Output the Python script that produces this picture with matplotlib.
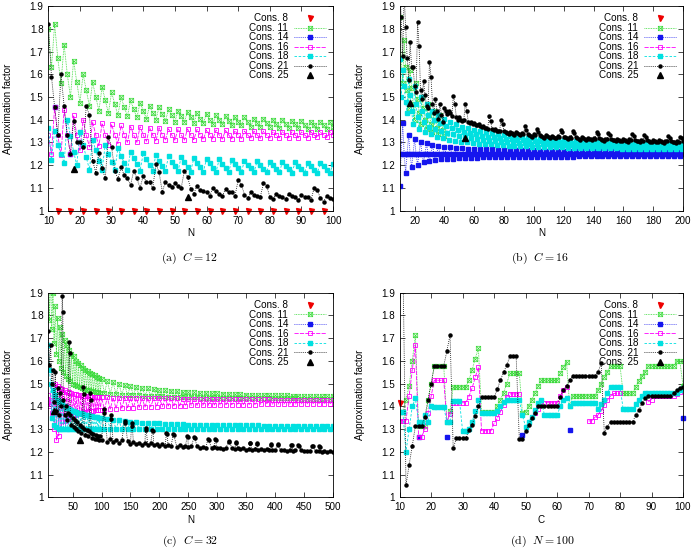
import numpy as np
import pandas as pd
import matplotlib
matplotlib.use("Agg")
import matplotlib.pyplot as plt
from matplotlib.lines import Line2D
from matplotlib.path import Path
from matplotlib.ticker import FormatStrFormatter

plt.rcParams['font.family'] = ['Liberation Sans', 'DejaVu Sans']
plt.rcParams['font.size'] = 7.1

# ------------------------------------------------------------ (a) C = 12
n_a = np.arange(10, 101)
a_c8_n = [13, 17, 21, 25, 29, 33, 37, 41, 45, 49, 53, 57, 61, 65, 69, 73, 77, 81, 85, 89, 93, 97]
a_c8 = [1.0, 1.0, 1.0, 1.0, 1.0, 1.0, 1.0, 1.0, 1.0, 1.0, 1.0,
        1.0, 1.0, 1.0, 1.0, 1.0, 1.0, 1.0, 1.0, 1.0, 1.0, 1.0]
a_c11 = [1.80, 1.63, 1.82, 1.67, 1.56, 1.73, 1.60, 1.50, 1.66, 1.565,
         1.475, 1.60, 1.53, 1.46, 1.565, 1.50, 1.44, 1.545, 1.485, 1.43,
         1.52, 1.47, 1.42, 1.50, 1.455, 1.415, 1.485, 1.445, 1.41, 1.475,
         1.44, 1.405, 1.46, 1.43, 1.40, 1.455, 1.425, 1.395, 1.445, 1.42,
         1.39, 1.44, 1.415, 1.39, 1.435, 1.41, 1.385, 1.43, 1.405, 1.385,
         1.425, 1.40, 1.38, 1.42, 1.40, 1.38, 1.415, 1.395, 1.375, 1.41,
         1.39, 1.375, 1.41, 1.39, 1.37, 1.405, 1.385, 1.37, 1.405, 1.385,
         1.37, 1.40, 1.38, 1.365, 1.40, 1.38, 1.365, 1.395, 1.38, 1.365,
         1.395, 1.375, 1.36, 1.39, 1.375, 1.36, 1.39, 1.375, 1.36, 1.39,
         1.37]
a_c14_n = [12, 17]
a_c14 = [1.455, 1.25]
a_c16 = [1.333, 1.25,
         1.455, 1.333, 1.243, 1.443, 1.333, 1.25, 1.42, 1.333, 1.265,
         1.40, 1.333, 1.28, 1.39, 1.333, 1.285, 1.385, 1.333, 1.29,
         1.38, 1.333, 1.295, 1.375, 1.333, 1.30, 1.37, 1.333, 1.30,
         1.37, 1.333, 1.305, 1.365, 1.333, 1.305, 1.365, 1.333, 1.31,
         1.36, 1.333, 1.31, 1.36, 1.333, 1.31, 1.36, 1.333, 1.312,
         1.357, 1.333, 1.313, 1.355, 1.333, 1.315, 1.355, 1.333, 1.315,
         1.353, 1.333, 1.316, 1.352, 1.333, 1.317, 1.35, 1.333, 1.318,
         1.35, 1.333, 1.318, 1.35, 1.333, 1.319, 1.348, 1.333, 1.32,
         1.348, 1.333, 1.32, 1.347, 1.333, 1.32, 1.346, 1.333, 1.321,
         1.346, 1.333, 1.322, 1.345, 1.333, 1.322, 1.345, 1.333]
a_c18 = [1.365, 1.222, 1.35, 1.29, 1.25, 1.21,
         1.40, 1.33, 1.26, 1.20, 1.345, 1.29, 1.235, 1.18,
         1.31, 1.265, 1.22, 1.18, 1.29, 1.25, 1.215, 1.178,
         1.275, 1.24, 1.21, 1.177, 1.26, 1.23, 1.205, 1.176,
         1.252, 1.225, 1.20, 1.175, 1.246, 1.22, 1.197, 1.174,
         1.24, 1.216, 1.195, 1.173, 1.236, 1.213, 1.193, 1.172,
         1.232, 1.21, 1.19, 1.171, 1.228, 1.208, 1.189, 1.17,
         1.225, 1.206, 1.188, 1.17, 1.222, 1.204, 1.187, 1.169,
         1.22, 1.202, 1.186, 1.169, 1.218, 1.201, 1.185, 1.168,
         1.216, 1.20, 1.184, 1.168, 1.214, 1.198, 1.183, 1.167,
         1.212, 1.197, 1.182, 1.167, 1.21, 1.196, 1.181, 1.166,
         1.208, 1.195, 1.18, 1.166, 1.205]
a_c21 = [1.82, 1.59, 1.455, 1.333, 1.60, 1.46, 1.333, 1.25, 1.395, 1.30,
         1.30, 1.28, 1.46, 1.42, 1.22, 1.167, 1.255, 1.186, 1.142, 1.325,
         1.28, 1.176, 1.14, 1.19, 1.157, 1.142, 1.113, 1.176, 1.142, 1.10,
         1.153, 1.125, 1.125, 1.098, 1.205, 1.17, 1.084, 1.125, 1.111, 1.105,
         1.12, 1.11, 1.10, 1.175, 1.15, 1.095, 1.075, 1.11, 1.09, 1.085,
         1.08, 1.065, 1.10, 1.085, 1.075, 1.065, 1.095, 1.08, 1.08, 1.065,
         1.135, 1.115, 1.07, 1.055, 1.08, 1.07, 1.065, 1.06, 1.12, 1.11,
         1.06, 1.05, 1.075, 1.065, 1.06, 1.05, 1.075, 1.065, 1.06, 1.045,
         1.07, 1.06, 1.06, 1.045, 1.10, 1.09, 1.055, 1.04, 1.065, 1.055,
         1.05]
a_c25_n = [18, 54]
a_c25 = [1.185, 1.06]

# ------------------------------------------------------------ (b) C = 16
n_b = np.arange(10, 201)
b_c11_n = np.arange(10, 41)
b_c11 = [1.85, 1.67, 1.56, 1.75, 1.63, 1.53, 1.45, 1.62, 1.54, 1.47,
         1.40, 1.56, 1.49, 1.43, 1.38, 1.50, 1.45, 1.40, 1.36, 1.47,
         1.42, 1.38, 1.345, 1.44, 1.40, 1.365, 1.335, 1.42, 1.385, 1.355,
         1.33]
b_c14 = [1.11, 1.25,
         1.385, 1.25, 1.167, 1.25, 1.333, 1.25, 1.19, 1.25,
         1.315, 1.25, 1.203, 1.25, 1.304, 1.25, 1.212, 1.25,
         1.296, 1.25, 1.218, 1.25, 1.29, 1.25, 1.222, 1.25,
         1.286, 1.25, 1.225, 1.25, 1.282, 1.25, 1.227, 1.25,
         1.279, 1.25, 1.229, 1.25, 1.277, 1.25, 1.23, 1.25,
         1.275, 1.25, 1.231, 1.25, 1.273, 1.25, 1.232, 1.25,
         1.272, 1.25, 1.233, 1.25, 1.271, 1.25, 1.234, 1.25,
         1.27, 1.25, 1.234, 1.25, 1.269, 1.25, 1.235, 1.25,
         1.268, 1.25, 1.235, 1.25, 1.267, 1.25, 1.236, 1.25,
         1.267, 1.25, 1.236, 1.25, 1.266, 1.25, 1.237, 1.25,
         1.266, 1.25, 1.237, 1.25, 1.265, 1.25, 1.237, 1.25,
         1.265, 1.25, 1.238, 1.25, 1.264, 1.25, 1.238, 1.25,
         1.264, 1.25, 1.238, 1.25, 1.264, 1.25, 1.238, 1.25,
         1.264, 1.25, 1.238, 1.25, 1.264, 1.25, 1.238, 1.25,
         1.263, 1.25, 1.238, 1.25, 1.263, 1.25, 1.239, 1.25,
         1.263, 1.25, 1.239, 1.25, 1.263, 1.25, 1.239, 1.25,
         1.263, 1.25, 1.239, 1.25, 1.263, 1.25, 1.239, 1.25,
         1.263, 1.25, 1.239, 1.25, 1.262, 1.25, 1.239, 1.25,
         1.262, 1.25, 1.239, 1.25, 1.262, 1.25, 1.239, 1.25,
         1.262, 1.25, 1.239, 1.25, 1.262, 1.25, 1.24, 1.25,
         1.262, 1.25, 1.24, 1.25, 1.262, 1.25, 1.24, 1.25,
         1.262, 1.25, 1.24, 1.25, 1.262, 1.25, 1.24, 1.25,
         1.262, 1.25, 1.24, 1.25, 1.262, 1.25, 1.24, 1.25,
         1.262, 1.25, 1.24, 1.25,
         1.262]
b_c18 = [1.667, 1.50,
         1.62, 1.55, 1.48, 1.43, 1.58, 1.51, 1.44, 1.38,
         1.55, 1.47, 1.41, 1.36, 1.50, 1.44, 1.39, 1.345,
         1.47, 1.42, 1.37, 1.335, 1.44, 1.40, 1.36, 1.325,
         1.42, 1.385, 1.35, 1.318, 1.405, 1.373, 1.342, 1.312,
         1.39, 1.362, 1.335, 1.307, 1.38, 1.354, 1.328, 1.303,
         1.37, 1.347, 1.323, 1.30, 1.362, 1.341, 1.319, 1.297,
         1.355, 1.335, 1.315, 1.295, 1.349, 1.33, 1.311, 1.293,
         1.344, 1.326, 1.308, 1.291, 1.34, 1.323, 1.306, 1.289,
         1.336, 1.32, 1.304, 1.288, 1.332, 1.317, 1.302, 1.286,
         1.329, 1.314, 1.30, 1.285, 1.326, 1.312, 1.298, 1.284,
         1.323, 1.31, 1.296, 1.283, 1.321, 1.308, 1.295, 1.282,
         1.319, 1.306, 1.294, 1.281, 1.317, 1.305, 1.293, 1.28,
         1.315, 1.303, 1.291, 1.279, 1.313, 1.302, 1.29, 1.279,
         1.312, 1.301, 1.289, 1.278, 1.31, 1.299, 1.288, 1.277,
         1.309, 1.298, 1.287, 1.277, 1.308, 1.297, 1.286, 1.276,
         1.306, 1.296, 1.286, 1.276, 1.305, 1.295, 1.285, 1.275,
         1.304, 1.294, 1.284, 1.275, 1.303, 1.293, 1.284, 1.274,
         1.302, 1.293, 1.283, 1.274, 1.301, 1.292, 1.283, 1.274,
         1.30, 1.291, 1.282, 1.273, 1.30, 1.291, 1.282, 1.273,
         1.299, 1.29, 1.281, 1.273, 1.298, 1.29, 1.281, 1.272,
         1.298, 1.289, 1.28, 1.272, 1.297, 1.289, 1.28, 1.272,
         1.296, 1.288, 1.28, 1.271, 1.296, 1.288, 1.279, 1.271,
         1.295, 1.287, 1.279, 1.271, 1.295, 1.287, 1.279, 1.27,
         1.294, 1.286, 1.278, 1.27,
         1.294]
b_c21 = [2.0, 1.85, 1.68, 1.95, 1.81, 1.67, 1.575, 1.74, 1.63, 1.63,
         1.55, 1.52, 1.83, 1.725, 1.53, 1.49, 1.57, 1.51, 1.46, 1.45,
         1.655, 1.59, 1.47, 1.43, 1.49, 1.44, 1.405, 1.47, 1.42, 1.39,
         1.45, 1.44, 1.425, 1.44, 1.43, 1.415, 1.505, 1.47, 1.41, 1.40,
         1.41, 1.40, 1.395, 1.40, 1.47, 1.44, 1.39, 1.385, 1.39, 1.38,
         1.385, 1.378, 1.375, 1.38, 1.372, 1.368, 1.372, 1.365, 1.362, 1.36,
         1.415, 1.395, 1.36, 1.355, 1.358, 1.352, 1.35, 1.352, 1.40, 1.38,
         1.352, 1.346, 1.34, 1.336, 1.348, 1.342, 1.337, 1.333,
         1.345, 1.34, 1.335, 1.331, 1.342, 1.337, 1.372, 1.355,
         1.339, 1.334, 1.33, 1.326, 1.337, 1.332, 1.36, 1.347,
         1.334, 1.329, 1.325, 1.321, 1.332, 1.327, 1.323, 1.319,
         1.33, 1.325, 1.321, 1.318, 1.328, 1.323, 1.355, 1.345,
         1.326, 1.322, 1.318, 1.315, 1.325, 1.32, 1.352, 1.342,
         1.323, 1.319, 1.315, 1.312, 1.322, 1.318, 1.314, 1.311,
         1.32, 1.316, 1.313, 1.31, 1.319, 1.315, 1.345, 1.336,
         1.318, 1.314, 1.311, 1.308, 1.317, 1.313, 1.34, 1.332,
         1.316, 1.312, 1.309, 1.306, 1.315, 1.311, 1.308, 1.305,
         1.314, 1.31, 1.307, 1.304, 1.313, 1.309, 1.335, 1.327,
         1.312, 1.308, 1.305, 1.302, 1.311, 1.308, 1.332, 1.325,
         1.31, 1.307, 1.304, 1.301, 1.31, 1.306, 1.303, 1.30,
         1.309, 1.305, 1.302, 1.299, 1.308, 1.305, 1.328, 1.32,
         1.307, 1.304, 1.301, 1.298, 1.307, 1.303, 1.325, 1.318,
         1.306]
b_c25_n = [17, 54]
b_c25 = [1.475, 1.32]

# ------------------------------------------------------------ (c) C = 32
n_c = np.r_[np.arange(8, 101, 2), np.arange(105, 501, 5)]
c_c11 = [2.05, 1.78, 2.0, 1.74, 1.90, 1.68, 1.84, 1.63, 1.79, 1.60,
         1.75, 1.57, 1.72, 1.55, 1.69, 1.535, 1.67, 1.52, 1.65, 1.51,
         1.63, 1.50, 1.62, 1.495, 1.60, 1.49, 1.59, 1.485, 1.58, 1.48,
         1.57, 1.477, 1.562, 1.474, 1.555, 1.471, 1.548, 1.468, 1.542, 1.466,
         1.536, 1.464, 1.531, 1.462, 1.526, 1.46, 1.522,
         1.458, 1.512, 1.456, 1.506, 1.454, 1.50, 1.452, 1.495, 1.45, 1.49,
         1.449, 1.486, 1.448, 1.482, 1.447, 1.479, 1.446, 1.476, 1.445, 1.473,
         1.444, 1.471, 1.443, 1.469, 1.442, 1.467, 1.441, 1.465, 1.441, 1.463,
         1.44, 1.462, 1.44, 1.46, 1.439, 1.459, 1.439, 1.458, 1.438, 1.457,
         1.438, 1.456, 1.438, 1.455, 1.437, 1.454, 1.437, 1.453, 1.437, 1.452,
         1.436, 1.451, 1.436, 1.45, 1.436, 1.45, 1.436, 1.449, 1.435, 1.449,
         1.435, 1.448, 1.435, 1.448, 1.435, 1.447, 1.435, 1.447, 1.434, 1.446,
         1.434, 1.446, 1.434, 1.445, 1.434, 1.445, 1.434, 1.444, 1.434, 1.444]
c_c16 = [1.45, 1.40, 1.43, 1.37, 1.48, 1.30, 1.50, 1.25, 1.49, 1.27,
         1.48, 1.30, 1.475, 1.32, 1.47, 1.335, 1.465, 1.345, 1.462, 1.352,
         1.458, 1.358, 1.455, 1.362, 1.453, 1.366, 1.45, 1.37, 1.448, 1.373,
         1.447, 1.375, 1.446, 1.377, 1.445, 1.378, 1.444, 1.38, 1.443, 1.381,
         1.442, 1.382, 1.442, 1.383, 1.441, 1.384, 1.44,
         1.386, 1.44, 1.388, 1.439, 1.39, 1.439, 1.392, 1.438, 1.394, 1.438,
         1.395, 1.437, 1.396, 1.437, 1.397, 1.436, 1.398, 1.436, 1.399, 1.436,
         1.40, 1.435, 1.401, 1.435, 1.402, 1.435, 1.402, 1.434, 1.403, 1.434,
         1.404, 1.434, 1.404, 1.433, 1.405, 1.433, 1.405, 1.433, 1.406, 1.433,
         1.406, 1.432, 1.407, 1.432, 1.407, 1.432, 1.407, 1.432, 1.408, 1.431,
         1.408, 1.431, 1.408, 1.431, 1.409, 1.431, 1.409, 1.431, 1.409, 1.43,
         1.41, 1.43, 1.41, 1.43, 1.41, 1.43, 1.41, 1.43, 1.41, 1.43,
         1.41, 1.43, 1.41, 1.43, 1.41, 1.43, 1.41, 1.43, 1.41, 1.43]
c_c18 = [1.67, 1.56, 1.50, 1.35, 1.47, 1.32, 1.45, 1.31, 1.43, 1.30,
         1.42, 1.30, 1.41, 1.30, 1.40, 1.30, 1.395, 1.30, 1.39, 1.30,
         1.385, 1.30, 1.38, 1.30, 1.376, 1.30, 1.372, 1.30, 1.369, 1.30,
         1.366, 1.30, 1.363, 1.30, 1.36, 1.30, 1.358, 1.30, 1.356, 1.30,
         1.354, 1.30, 1.352, 1.30, 1.35, 1.30, 1.348,
         1.30, 1.345, 1.30, 1.341, 1.30, 1.338, 1.30, 1.335, 1.30, 1.333,
         1.30, 1.331, 1.30, 1.329, 1.30, 1.328, 1.30, 1.326, 1.30, 1.325,
         1.30, 1.324, 1.30, 1.323, 1.30, 1.322, 1.30, 1.321, 1.30, 1.32,
         1.30, 1.32, 1.30, 1.319, 1.30, 1.319, 1.30, 1.318, 1.30, 1.318,
         1.30, 1.317, 1.30, 1.317, 1.30, 1.317, 1.30, 1.316, 1.30, 1.316,
         1.30, 1.316, 1.30, 1.316, 1.30, 1.315, 1.30, 1.315, 1.30, 1.315,
         1.30, 1.315, 1.30, 1.315, 1.30, 1.315, 1.30, 1.315, 1.30, 1.315,
         1.30, 1.315, 1.30, 1.315, 1.30, 1.315, 1.30, 1.315, 1.30, 1.315]
c_c21 = [1.73, 1.58, 1.67, 1.50, 1.56, 1.42, 1.55, 1.38, 1.48, 1.36,
         1.46, 1.40, 1.45, 1.43, 1.36, 1.40, 1.34, 1.37, 1.42, 1.36,
         1.32, 1.35, 1.31, 1.34, 1.30, 1.33, 1.29, 1.32, 1.285, 1.31,
         1.30, 1.30, 1.275, 1.295, 1.27, 1.29, 1.28, 1.285, 1.262, 1.28,
         1.258, 1.275, 1.255, 1.27, 1.252, 1.268, 1.25,
         1.262, 1.245, 1.258, 1.242, 1.254, 1.24, 1.25, 1.238, 1.247, 1.236,
         1.244, 1.234, 1.241, 1.232, 1.239, 1.23, 1.237, 1.228, 1.235, 1.226,
         1.233, 1.225, 1.231, 1.224, 1.229, 1.222, 1.228, 1.221, 1.226, 1.22,
         1.225, 1.219, 1.224, 1.218, 1.222, 1.217, 1.221, 1.216, 1.22, 1.215,
         1.219, 1.214, 1.218, 1.213, 1.217, 1.212, 1.216, 1.211, 1.215, 1.21,
         1.214, 1.21, 1.213, 1.209, 1.212, 1.208, 1.211, 1.207, 1.21, 1.206,
         1.209, 1.206, 1.208, 1.205, 1.207, 1.204, 1.206, 1.204, 1.206, 1.203,
         1.205, 1.202, 1.204, 1.202, 1.204, 1.201, 1.203, 1.20, 1.202, 1.20]
c_c21_spike_n = [32, 33, 44, 45, 68, 69, 80, 81, 104, 105, 116, 117, 140, 141,
                 152, 153, 176, 177, 188, 189, 212, 213, 224, 225, 248, 249,
                 260, 261, 284, 285, 296, 297, 320, 321, 332, 333, 356, 357,
                 368, 369, 392, 393, 404, 405, 428, 429, 440, 441, 464, 465,
                 476, 477]
c_c21_spike = [1.886, 1.815, 1.685, 1.635, 1.487, 1.455, 1.457, 1.43, 1.39, 1.37,
               1.36, 1.345, 1.336, 1.325, 1.325, 1.315, 1.306, 1.298, 1.296, 1.29,
               1.284, 1.278, 1.278, 1.272, 1.27, 1.264, 1.265, 1.26, 1.258, 1.253,
               1.255, 1.25, 1.248, 1.244, 1.245, 1.241, 1.24, 1.237, 1.238, 1.235,
               1.235, 1.232, 1.233, 1.23, 1.23, 1.228, 1.228, 1.226, 1.226, 1.224,
               1.224, 1.222]
c_c25_n = [18, 62]
c_c25 = [1.38, 1.25]

# ------------------------------------------------------------ (d) N = 100
c_d = np.arange(10, 101)
d_c8_c = [10]
d_c8 = [1.413]
d_c11 = [1.377, 1.377, 1.43, 1.49, 1.60, 1.714, 1.315, 1.315, 1.315, 1.43,
         1.50, 1.578, 1.578, 1.578, 1.578, 1.33, 1.38, 1.485, 1.485, 1.485,
         1.485, 1.485, 1.516, 1.56, 1.61, 1.655, 1.375, 1.375, 1.375, 1.375,
         1.375, 1.40, 1.43, 1.46, 1.50, 1.545, 1.545, 1.545, 1.545, 1.37,
         1.375, 1.40, 1.43, 1.46, 1.49, 1.515, 1.515, 1.515, 1.515, 1.515,
         1.515, 1.545, 1.575, 1.597, 1.40, 1.446, 1.446, 1.446, 1.446, 1.446,
         1.446, 1.446, 1.446, 1.47, 1.50, 1.528, 1.553, 1.578, 1.578, 1.578,
         1.578, 1.457, 1.457, 1.457, 1.457, 1.487, 1.513, 1.534, 1.553, 1.578,
         1.578, 1.578, 1.578, 1.578, 1.578, 1.578, 1.578, 1.578, 1.60, 1.60,
         1.49]
d_c14_c = [16, 25, 49, 64, 100]
d_c14 = [1.267, 1.265, 1.275, 1.296, 1.35]
d_c16 = [1.337, 1.337, 1.337, 1.445, 1.56, 1.67, 1.267, 1.267, 1.30, 1.37,
         1.445, 1.515, 1.515, 1.515, 1.515, 1.333, 1.365, 1.416, 1.416, 1.416,
         1.416, 1.416, 1.443, 1.48, 1.528, 1.572, 1.293, 1.293, 1.293, 1.293,
         1.325, 1.347, 1.377, 1.406, 1.443, 1.455, 1.455, 1.455, 1.455, None,
         None, 1.33, 1.355, 1.37, 1.39, 1.416, 1.416, 1.416, 1.416, 1.416,
         1.416, 1.446, 1.47, 1.487, None, None, None, None, None, None,
         1.336, 1.336, 1.352, 1.362, 1.38, 1.406, 1.428, 1.446, 1.457, 1.457,
         1.457, None, None, None, None, None, None, None, None, 1.42,
         1.43, 1.445, 1.445, 1.445, 1.445, 1.445, 1.445, 1.445, 1.455, 1.465,
         1.48]
d_c18 = [1.377, 1.377, 1.20, 1.30, 1.40, 1.435, 1.33, 1.33, 1.36, 1.33,
         1.40, 1.396, 1.396, 1.396, 1.396, 1.333, 1.333, 1.425, 1.425, 1.425,
         1.29, 1.29, 1.30, 1.33, 1.38, 1.43, 1.372, 1.372, 1.372, 1.372,
         1.372, 1.38, 1.40, 1.42, 1.43, 1.43, 1.43, 1.43, 1.43, 1.36,
         1.31, 1.33, 1.355, 1.385, 1.415, 1.43, 1.36, 1.36, 1.36, 1.36,
         1.36, 1.40, 1.43, 1.435, 1.40, 1.416, 1.416, 1.416, 1.416, 1.416,
         1.416, 1.416, 1.416, 1.39, 1.41, 1.43, 1.46, 1.487, 1.487, 1.487,
         1.487, 1.387, 1.387, 1.387, 1.387, 1.41, 1.43, 1.445, 1.46, 1.457,
         1.457, 1.457, 1.457, 1.457, 1.457, 1.457, 1.457, 1.457, 1.457, 1.47,
         1.48]
d_c21 = [2.1, 2.07, 1.054, 1.142, 1.227, 1.315, 1.315, 1.315, 1.355, 1.428,
         1.50, 1.578, 1.578, 1.578, 1.578, 1.644, 1.714, 1.216, 1.26, 1.26,
         1.26, 1.26, 1.296, 1.32, 1.358, 1.40, 1.44, 1.44, 1.44, 1.44,
         1.44, 1.475, 1.516, 1.55, 1.58, 1.62, 1.62, 1.62, 1.255, 1.255,
         1.29, 1.32, 1.35, 1.37, 1.40, 1.40, 1.40, 1.40, 1.40, 1.40,
         1.40, 1.44, 1.47, 1.49, 1.515, 1.534, 1.534, 1.534, 1.534, 1.534,
         1.534, 1.534, 1.534, 1.55, 1.59, 1.285, 1.31, 1.333, 1.333, 1.333,
         1.333, 1.333, 1.333, 1.333, 1.333, 1.36, 1.385, 1.413, 1.435, 1.445,
         1.445, 1.445, 1.445, 1.445, 1.445, 1.445, 1.445, 1.457, 1.47, 1.48,
         1.487]

y_ticks = [1, 1.1, 1.2, 1.3, 1.4, 1.5, 1.6, 1.7, 1.8, 1.9]

# boxed cross marker (square outline with both diagonals)
box_x = Path([(-1, -1), (1, -1), (1, 1), (-1, 1), (-1, -1), (-1, -1), (1, 1), (-1, 1), (1, -1)],
             [Path.MOVETO, Path.LINETO, Path.LINETO, Path.LINETO, Path.LINETO,
              Path.MOVETO, Path.LINETO, Path.MOVETO, Path.LINETO])

STYLE = {
    'Cons. 8':  dict(color='#ee0000', marker='v', ls='none', ms=3.6),
    'Cons. 11': dict(color='#3ada3a', marker=box_x, mfc='none', mew=0.5, ls=(0, (1, 1)), lw=0.6, ms=3.2),
    'Cons. 14': dict(color='#1515ee', marker='s', ls=(0, (1, 1.5)), lw=0.6, ms=2.2),
    'Cons. 16': dict(color='#ff00ff', marker='s', mfc='none', mew=0.6, ls=(0, (5, 1.5)), lw=0.6, ms=3.3),
    'Cons. 18': dict(color='#00e0e0', marker='s', ls=(0, (3, 2)), lw=0.6, ms=2.7),
    'Cons. 21': dict(color='black', marker='o', ls=(0, (1, 1.5)), lw=0.6, ms=2.2),
    'Cons. 25': dict(color='black', marker='^', ls='none', ms=3.8),
}


def draw(ax, x, y, key, **extra):
    st = dict(STYLE[key])
    st.update(extra)
    ax.plot(x, np.array(y, dtype=float), **st)


def finish(ax, xlabel, xticks, xlim, ylab_x):
    ax.set_xlim(*xlim)
    ax.set_ylim(1, 1.9)
    ax.set_xticks(xticks)
    ax.set_yticks(y_ticks)
    ax.yaxis.set_major_formatter(FormatStrFormatter('%g'))
    ax.tick_params(direction='in', top=True, right=True, length=3.5, width=0.5, pad=3.5)
    for s in ax.spines.values():
        s.set_linewidth(0.6)
    ax.set_xlabel(xlabel)
    ax.set_ylabel('Approximation factor')
    ax.xaxis.set_label_coords(0.5, -0.085)
    ax.yaxis.set_label_coords(ylab_x, 0.5)
    handles = [Line2D([], [], **STYLE[k]) for k in STYLE]
    ax.legend(handles, list(STYLE), loc='upper right', frameon=False, markerfirst=False,
              handlelength=3.2, handletextpad=0.6, labelspacing=-0.05, borderaxespad=0.5,
              borderpad=0.25, fontsize=7.1)


fig = plt.figure(figsize=(6.98, 5.5), dpi=100)
ax_a = fig.add_axes([0.0692, 0.617, 0.408, 0.372])
ax_b = fig.add_axes([0.5726, 0.617, 0.4059, 0.372])
ax_c = fig.add_axes([0.0692, 0.0958, 0.408, 0.372])
ax_d = fig.add_axes([0.5726, 0.0958, 0.4059, 0.372])

# (a)
draw(ax_a, a_c8_n, a_c8, 'Cons. 8', clip_on=False)
draw(ax_a, n_a, a_c11, 'Cons. 11')
draw(ax_a, a_c14_n, a_c14, 'Cons. 14', ls='none')
draw(ax_a, n_a, a_c16, 'Cons. 16')
draw(ax_a, n_a, a_c18, 'Cons. 18')
draw(ax_a, n_a, a_c21, 'Cons. 21')
draw(ax_a, a_c25_n, a_c25, 'Cons. 25')
finish(ax_a, 'N', [10, 20, 30, 40, 50, 60, 70, 80, 90, 100], (10, 100), -0.125)

# (b)
draw(ax_b, b_c11_n, b_c11, 'Cons. 11')
draw(ax_b, n_b, b_c14, 'Cons. 14')
draw(ax_b, n_b, b_c18, 'Cons. 18')
draw(ax_b, n_b, b_c21, 'Cons. 21')
draw(ax_b, b_c25_n, b_c25, 'Cons. 25')
finish(ax_b, 'N', [20, 40, 60, 80, 100, 120, 140, 160, 180, 200], (10, 200), -0.124)

# (c)  spikes of Cons. 21 are merged into its base series
base_c21 = pd.Series(c_c21, index=n_c)
spk_c21 = pd.Series(c_c21_spike, index=c_c21_spike_n)
black_c = pd.concat([base_c21.drop(spk_c21.index, errors='ignore'), spk_c21]).sort_index()
draw(ax_c, n_c, c_c11, 'Cons. 11')
draw(ax_c, n_c, c_c16, 'Cons. 16')
draw(ax_c, n_c, c_c18, 'Cons. 18')
draw(ax_c, black_c.index, black_c.values, 'Cons. 21')
draw(ax_c, c_c25_n, c_c25, 'Cons. 25')
finish(ax_c, 'N', [50, 100, 150, 200, 250, 300, 350, 400, 450, 500], (8, 500), -0.125)

# (d)
draw(ax_d, d_c8_c, d_c8, 'Cons. 8', clip_on=False)
draw(ax_d, c_d, d_c11, 'Cons. 11')
draw(ax_d, d_c14_c, d_c14, 'Cons. 14', ls='none', clip_on=False)
draw(ax_d, c_d, d_c16, 'Cons. 16')
draw(ax_d, c_d, d_c18, 'Cons. 18')
draw(ax_d, c_d, d_c21, 'Cons. 21')
finish(ax_d, 'C', [10, 20, 30, 40, 50, 60, 70, 80, 90, 100], (10, 100), -0.124)

cap = dict(ha='center', va='center', fontsize=8.5, math_fontfamily='cm')
fig.text(0.272, 0.531, r'$\mathrm{(a)}\ \ C = 12$', **cap)
fig.text(0.774, 0.531, r'$\mathrm{(b)}\ \ C = 16$', **cap)
fig.text(0.272, 0.0164, r'$\mathrm{(c)}\ \ C = 32$', **cap)
fig.text(0.777, 0.0164, r'$\mathrm{(d)}\ \ N = 100$', **cap)

fig.savefig('out.png', dpi=100)
